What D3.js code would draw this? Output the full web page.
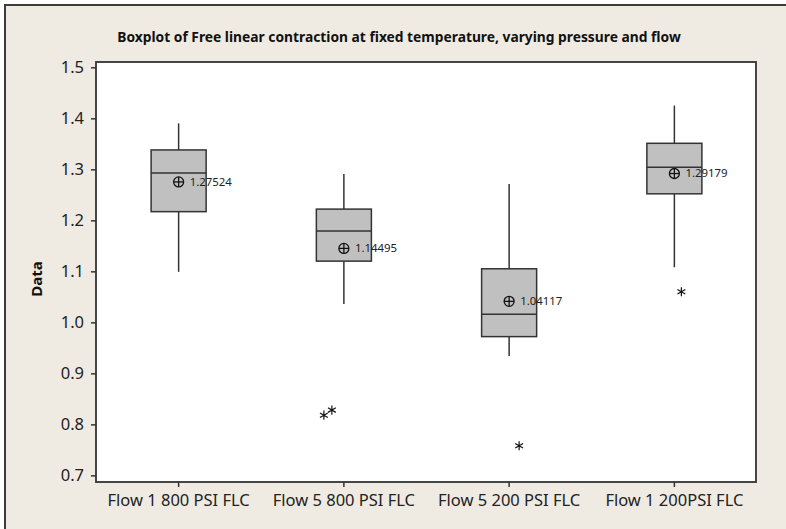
<!DOCTYPE html>
<html>
<head>
<meta charset="utf-8">
<script src="https://cdn.jsdelivr.net/npm/d3@7"></script>
<style>
  body { margin: 0; background: #ffffff; }
  svg { display: block; }
</style>
</head>
<body>
<svg id="chart" width="786" height="529"></svg>
<script>
// ---- data ----
const categories = ["Flow 1 800 PSI FLC", "Flow 5 800 PSI FLC", "Flow 5 200 PSI FLC", "Flow 1 200PSI FLC"];
const whiskerLow  = [1.099, 1.036, 0.934, 1.108];
const q1          = [1.217, 1.120, 0.972, 1.252];
const median      = [1.293, 1.179, 1.016, 1.304];
const q3          = [1.338, 1.222, 1.105, 1.351];
const whiskerHigh = [1.390, 1.291, 1.271, 1.425];
const means       = [1.27524, 1.14495, 1.04117, 1.29179];
const outliers    = [[], [0.818, 0.828], [0.758], [1.060]];
const yTicks      = [0.7, 0.8, 0.9, 1.0, 1.1, 1.2, 1.3, 1.4, 1.5];
const yDomain     = [0.687, 1.5104];

const titleText = "Boxplot of Free linear contraction at fixed temperature, varying pressure and flow";
const yLabel = "Data";

// ---- layout ----
const W = 786, H = 529;
const frame = { left: 96, top: 62, right: 756, bottom: 482 };
const FONT = "'Noto Sans', 'DejaVu Sans', sans-serif";
const INK = "#333333";

const svg = d3.select("#chart");

// panel background with its top/left border
svg.append("rect")
  .attr("x", 5).attr("y", 5)
  .attr("width", W + 20).attr("height", H + 20)
  .attr("fill", "#efebe2")
  .attr("stroke", "#3c3c3c").attr("stroke-width", 2);

// plot area
svg.append("rect")
  .attr("x", frame.left).attr("y", frame.top)
  .attr("width", frame.right - frame.left).attr("height", frame.bottom - frame.top)
  .attr("fill", "#ffffff");

const x = d3.scaleBand()
  .domain(categories)
  .range([frame.left, 757])
  .paddingInner(0).paddingOuter(0);

const y = d3.scaleLinear().domain(yDomain).range([frame.bottom, frame.top]);

const boxW = x.bandwidth() * 0.333;

// ---- axes ----
const yAxis = d3.axisLeft(y)
  .tickValues(yTicks)
  .tickFormat(d3.format(".1f"))
  .tickSize(5).tickPadding(7);

const gy = svg.append("g")
  .attr("transform", `translate(${frame.left},0)`)
  .call(yAxis);
gy.select(".domain").remove();
gy.selectAll(".tick line").attr("stroke", INK).attr("stroke-width", 1.5);
gy.selectAll(".tick text")
  .attr("fill", "#222")
  .style("font-family", FONT).style("font-size", "16.5px");

const xAxis = d3.axisBottom(x).tickSize(5).tickPadding(6);
const gx = svg.append("g")
  .attr("transform", `translate(0,${frame.bottom})`)
  .call(xAxis);
gx.select(".domain").remove();
gx.selectAll(".tick line").attr("stroke", INK).attr("stroke-width", 1.5);
gx.selectAll(".tick text")
  .attr("fill", "#222")
  .attr("y", 24).attr("dy", 0)
  .style("font-family", FONT).style("font-size", "16.5px");

// plot frame
svg.append("rect")
  .attr("x", frame.left).attr("y", frame.top)
  .attr("width", frame.right - frame.left).attr("height", frame.bottom - frame.top)
  .attr("fill", "none").attr("stroke", INK).attr("stroke-width", 1.8);

// ---- boxes ----
const groups = svg.append("g").selectAll("g.box")
  .data(categories.map((c, i) => ({
    c, i,
    lo: whiskerLow[i], q1: q1[i], med: median[i], q3: q3[i], hi: whiskerHigh[i],
    mean: means[i], out: outliers[i]
  })))
  .join("g").attr("class", "box");

const cx = d => x(d.c) + x.bandwidth() / 2;

// whiskers
groups.append("line")
  .attr("x1", cx).attr("x2", cx)
  .attr("y1", d => y(d.hi)).attr("y2", d => y(d.q3))
  .attr("stroke", INK).attr("stroke-width", 1.5);
groups.append("line")
  .attr("x1", cx).attr("x2", cx)
  .attr("y1", d => y(d.q1)).attr("y2", d => y(d.lo))
  .attr("stroke", INK).attr("stroke-width", 1.5);

// interquartile box
groups.append("rect")
  .attr("x", d => cx(d) - boxW / 2)
  .attr("y", d => y(d.q3))
  .attr("width", boxW)
  .attr("height", d => y(d.q1) - y(d.q3))
  .attr("fill", "#c0c0c0")
  .attr("stroke", INK).attr("stroke-width", 1.5);

// median
groups.append("line")
  .attr("x1", d => cx(d) - boxW / 2).attr("x2", d => cx(d) + boxW / 2)
  .attr("y1", d => y(d.med)).attr("y2", d => y(d.med))
  .attr("stroke", INK).attr("stroke-width", 1.5);

// mean symbol: circle with a cross
const r = 5;
groups.append("circle")
  .attr("cx", cx).attr("cy", d => y(d.mean)).attr("r", r)
  .attr("fill", "none").attr("stroke", "#111").attr("stroke-width", 1.3);
groups.append("line")
  .attr("x1", d => cx(d) - r).attr("x2", d => cx(d) + r)
  .attr("y1", d => y(d.mean)).attr("y2", d => y(d.mean))
  .attr("stroke", "#111").attr("stroke-width", 1.3);
groups.append("line")
  .attr("x1", cx).attr("x2", cx)
  .attr("y1", d => y(d.mean) - r).attr("y2", d => y(d.mean) + r)
  .attr("stroke", "#111").attr("stroke-width", 1.3);

// mean value label
groups.append("text")
  .attr("x", d => cx(d) + 11)
  .attr("y", d => y(d.mean))
  .attr("dy", "0.35em")
  .attr("fill", "#222")
  .style("font-family", FONT).style("font-size", "11.4px")
  .text(d => d3.format(".5f")(d.mean));

// outliers, nudged sideways so overlapping symbols stay visible
const outlierNudge = [[], [-20, -12], [10], [7]];
const star = d3.symbol().type(d3.symbolAsterisk).size(58);
groups.each(function (d) {
  d3.select(this).selectAll("path.outlier")
    .data(d.out.map((v, k) => ({ v, k })))
    .join("path").attr("class", "outlier")
    .attr("d", star)
    .attr("transform", o => `translate(${cx(d) + outlierNudge[d.i][o.k]},${y(o.v)})`)
    .attr("fill", "none").attr("stroke", "#111").attr("stroke-width", 1.2);
});

// ---- titles ----
svg.append("text")
  .attr("x", 399).attr("y", 42)
  .attr("text-anchor", "middle")
  .attr("fill", "#111")
  .style("font-family", FONT).style("font-weight", "bold").style("font-size", "13.8px")
  .text(titleText);

svg.append("text")
  .attr("transform", "translate(42,279) rotate(-90)")
  .attr("text-anchor", "middle")
  .attr("fill", "#111")
  .style("font-family", FONT).style("font-weight", "bold").style("font-size", "15px")
  .text(yLabel);
</script>
</body>
</html>
